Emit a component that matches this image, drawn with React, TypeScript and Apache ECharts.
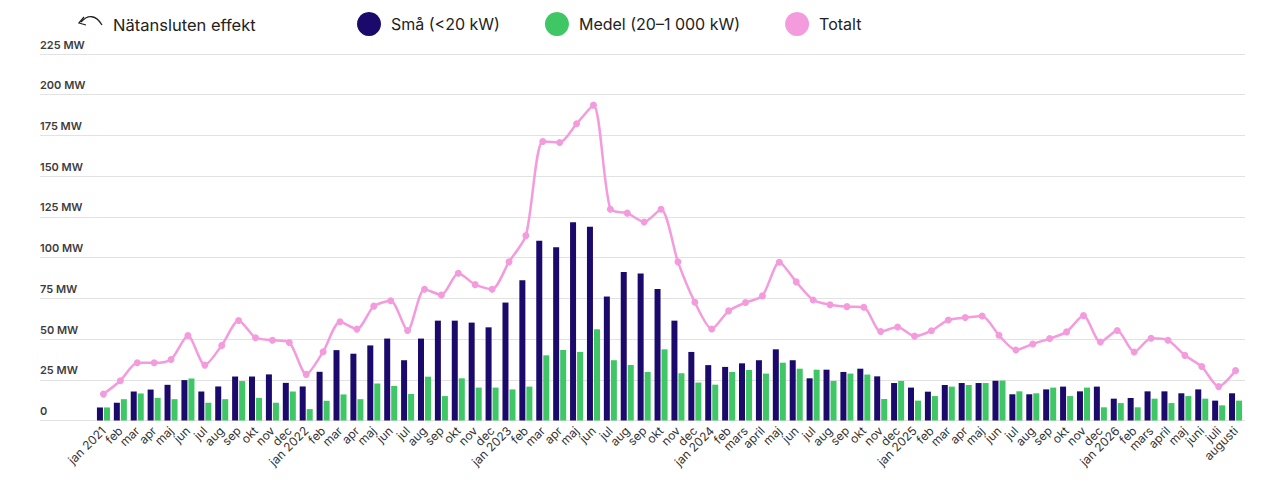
import * as echarts from "echarts";
import React, { useEffect, useRef } from "react";

const months: string[] = [
  "jan 2021", "feb", "mar", "apr", "maj", "jun", "jul", "aug", "sep", "okt", "nov", "dec",
  "jan 2022", "feb", "mar", "apr", "maj", "jun", "jul", "aug", "sep", "okt", "nov", "dec",
  "jan 2023", "feb", "mar", "apr", "maj", "jun", "jul", "aug", "sep", "okt", "nov", "dec",
  "jan 2024", "feb", "mars", "april", "maj", "jun", "jul", "aug", "sep", "okt", "nov", "dec",
  "jan 2025", "feb", "mar", "apr", "maj", "jun", "jul", "aug", "sep", "okt", "nov", "dec",
  "jan 2026", "feb", "mars", "april", "maj", "juni", "juli", "augusti",
];

// Små (<20 kW), MW
const small: number[] = [
  8.0, 10.9, 17.8, 19.0, 21.9, 24.8, 17.8, 20.9, 27.0, 27.0, 28.3, 23.1,
  20.9, 29.9, 43.2, 41.0, 46.1, 50.3, 37.0, 50.3, 61.3, 61.3, 60.1, 57.2,
  72.4, 86.1, 110.3, 106.4, 121.7, 119.0, 76.1, 91.2, 90.2, 80.8, 61.3, 42.1,
  34.0, 32.9, 35.1, 37.0, 43.7, 37.0, 25.9, 31.2, 29.8, 31.8, 27.1, 23.0,
  20.2, 17.7, 21.8, 23.0, 23.0, 24.4, 16.1, 16.1, 19.1, 20.8, 17.9, 20.8,
  13.4, 13.8, 17.9, 17.9, 16.7, 19.1, 12.2, 16.7,
];

// Medel (20–1 000 kW), MW
const medium: number[] = [
  8.0, 13.1, 16.6, 13.9, 13.1, 25.8, 10.9, 13.1, 24.2, 13.9, 10.9, 17.8,
  7.0, 12.1, 16.0, 13.1, 22.7, 21.2, 16.3, 26.9, 15.0, 25.9, 20.2, 20.2,
  19.1, 20.8, 40.0, 43.3, 42.1, 56.0, 37.0, 34.1, 29.8, 43.7, 29.0, 23.3,
  22.0, 29.8, 31.0, 28.8, 35.5, 31.8, 31.2, 24.3, 28.8, 28.2, 13.2, 24.3,
  12.2, 15.0, 20.8, 21.8, 23.0, 24.5, 17.9, 16.7, 20.2, 15.0, 20.2, 8.1,
  10.7, 8.1, 13.4, 10.7, 15.0, 13.4, 9.3, 12.2,
];

// Totalt, MW
const total: number[] = [
  16.2, 24.4, 35.4, 35.4, 37.5, 52.2, 34.0, 46.1, 61.4, 50.8, 49.3, 47.9,
  28.3, 42.2, 60.6, 56.1, 70.2, 73.5, 55.2, 80.6, 77.1, 90.4, 83.4, 80.6,
  97.4, 113.5, 171.3, 170.7, 182.2, 193.6, 129.7, 127.3, 121.9, 129.7, 97.4, 72.6,
  56.2, 67.3, 72.4, 76.5, 97.2, 85.1, 74.0, 71.1, 69.9, 69.5, 54.6, 57.4,
  51.8, 55.1, 61.7, 63.2, 64.2, 52.3, 43.3, 47.0, 50.3, 54.4, 64.4, 48.2,
  55.2, 42.0, 50.5, 49.3, 40.0, 33.1, 20.8, 30.6,
];

const NAVY = "#1b0a6b";
const GREEN = "#3fc766";
const PINK = "#f49bdd";
const FONT = "Inter, 'Noto Sans', sans-serif";

export default function App() {
  const chartRef = useRef<HTMLDivElement>(null);

  useEffect(() => {
    if (!chartRef.current) return;
    const chart = echarts.init(chartRef.current, null, { renderer: "svg" });

    const option = {
      animation: false,
      textStyle: { fontFamily: FONT },
      legend: {
        left: 352,
        top: 7,
        icon: "circle",
        itemWidth: 24,
        itemHeight: 24,
        itemGap: 45,
        textStyle: { fontSize: 16, color: "#222", fontFamily: FONT, padding: [0, 0, 0, 5] },
        data: ["Små (<20 kW)", "Medel (20–1 000 kW)", "Totalt"],
      },
      graphic: [
        {
          type: "bezierCurve",
          shape: { x1: 81, y1: 22, x2: 102, y2: 25, cpx1: 88, cpy1: 14, cpx2: 96, cpy2: 15 },
          style: { stroke: "#222", lineWidth: 1.3, fill: "none" },
        },
        {
          type: "polyline",
          shape: { points: [[84, 17], [79, 23], [86, 25]] },
          style: { stroke: "#222", lineWidth: 1.3, fill: "none" },
        },
        {
          type: "text",
          left: 113,
          top: 16,
          style: { text: "Nätansluten effekt", fontSize: 16.5, fill: "#222", fontFamily: FONT },
        },
      ],
      grid: [
        { left: 40, right: 35, top: 54, bottom: 59.5 },
        { left: 95, right: 36, top: 54, bottom: 59.5 },
      ],
      xAxis: [
        { type: "value", gridIndex: 0, show: false },
        {
          type: "category",
          gridIndex: 1,
          data: months,
          axisLine: { show: false },
          axisTick: { show: false },
          axisLabel: {
            interval: 0,
            rotate: 45,
            margin: 8,
            fontSize: 12,
            color: "#333",
            fontFamily: FONT,
          },
        },
      ],
      yAxis: [
        {
          type: "value",
          gridIndex: 0,
          min: 0,
          max: 225,
          interval: 25,
          axisLine: { show: false },
          axisTick: { show: false },
          splitLine: { lineStyle: { color: "#e2e2e2", width: 1 } },
          axisLabel: {
            inside: true,
            margin: 0,
            verticalAlign: "bottom",
            padding: [0, 0, 4, 0],
            fontSize: 11,
            fontWeight: 600,
            color: "#3d3d3d",
            fontFamily: FONT,
            formatter: (v: number) => (v === 0 ? "0" : v + " MW"),
          },
        },
        {
          type: "value",
          gridIndex: 1,
          min: 0,
          max: 225,
          show: false,
          splitLine: { show: false },
        },
      ],
      series: [
        {
          name: "Små (<20 kW)",
          type: "bar",
          xAxisIndex: 1,
          yAxisIndex: 1,
          data: small,
          barWidth: 6,
          barGap: "17%",
          itemStyle: { color: NAVY },
        },
        {
          name: "Medel (20–1 000 kW)",
          type: "bar",
          xAxisIndex: 1,
          yAxisIndex: 1,
          data: medium,
          barWidth: 6,
          barGap: "17%",
          itemStyle: { color: GREEN },
        },
        {
          name: "Totalt",
          type: "line",
          xAxisIndex: 1,
          yAxisIndex: 1,
          data: total,
          smooth: 0.25,
          symbol: "circle",
          symbolSize: 7,
          lineStyle: { color: PINK, width: 2.5 },
          itemStyle: { color: PINK },
        },
      ],
    };
    chart.setOption(option);

    return () => {
      chart.dispose();
    };
  }, []);

  return (
    <div style={{ position: "fixed", left: 0, top: 0, width: 1280, height: 480, background: "#fff" }}>
      <div ref={chartRef} style={{ width: "1280px", height: "480px" }}></div>
    </div>
  );
}
